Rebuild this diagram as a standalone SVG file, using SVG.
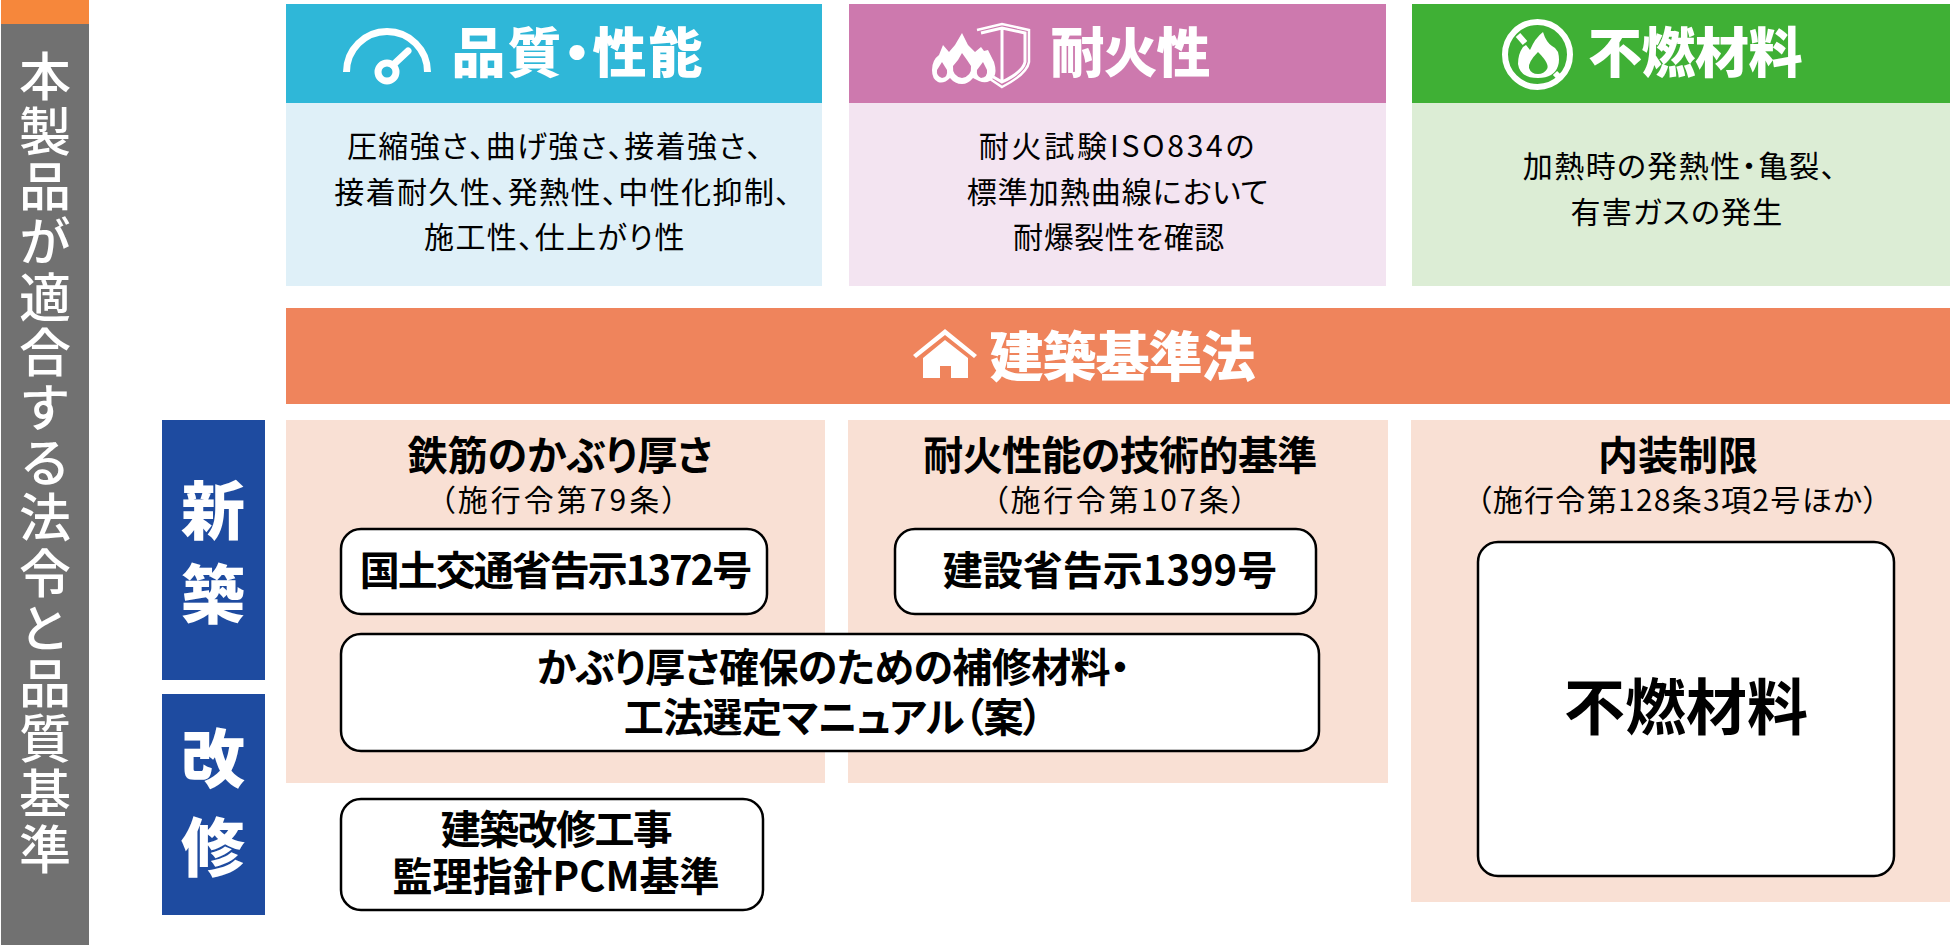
<svg xmlns="http://www.w3.org/2000/svg" width="1950" height="945" viewBox="0 0 1950 945">
<style>
text{font-family:"Noto Sans CJK JP","Noto Sans",sans-serif;text-anchor:middle;fill:#000;font-feature-settings:"palt"}
.t{font-size:54px;font-weight:900;fill:#fff}
.b{font-size:30px;font-weight:400;letter-spacing:1.4px}
.h{font-size:40px;font-weight:700}
.s{font-size:30px;font-weight:400;letter-spacing:1.8px}
.k{font-size:40px;font-weight:700}
.v{font-size:64px;font-weight:900;fill:#fff}
.box{fill:#fff;stroke:#000;stroke-width:2.5}
.ic{fill:none;stroke:#fff;stroke-width:7;stroke-linecap:round;stroke-linejoin:round}
.fl{fill:#fff}
</style>
<g id="side-bar">
<rect x="1" y="0" width="88" height="24" fill="#f6873b"/>
<rect x="1" y="24" width="88" height="921" fill="#717171"/>
<text x="45" y="50" style="writing-mode:vertical-rl;font-size:52px;font-weight:500;fill:#fff;text-anchor:start;letter-spacing:3.2px;font-feature-settings:normal">本製品が適合する法令と品質基準</text>
</g>
<g id="quality">
<rect x="286" y="4" width="536" height="99" fill="#2fb7d8"/>
<rect x="286" y="103" width="536" height="183" fill="#dff0f8"/>
<path class="ic" d="M346.500 72A40.500 40.500 0 0 1 427.500 72" style="stroke-linecap:butt"/>
<circle class="ic" cx="387" cy="72" r="9"/>
<path class="ic" d="M393 65L408 51"/>
<text class="t" x="578" y="73" style="letter-spacing:2px">品質・性能</text>
<text class="b" x="555" y="157">圧縮強さ、曲げ強さ、接着強さ、</text>
<text class="b" x="563" y="203">接着耐久性、発熱性、中性化抑制、</text>
<text class="b" x="555" y="248">施工性、仕上がり性</text>
</g>
<g id="fire-resistance">
<rect x="849" y="4" width="537" height="99" fill="#cd79ae"/>
<rect x="849" y="103" width="537" height="183" fill="#f3e4f1"/>
<path d="M977 30L1002 24L1029 30L1029 62Q1027 74 1002 87L990 79" fill="none" stroke="#fff" stroke-width="2.500"/>
<path d="M981 33L1002 28L1025 33L1025 62Q1023 72 1002 82L990 75M1002 29L1002 81" fill="none" stroke="#fff" stroke-width="3"/>
<path class="fl" d="M932 70Q932 60 939 55L943 45L949 52L955 45L962 33L968 45L975 52L981 47L984 51L988 50L994 62Q997 72 994 77Q988 85 979 81L973 78Q968 84 962 84Q955 84 950 78Q944 84 938 82Q932 79 932 70Z"/>
<path d="M962 53L967 60L971 66Q972 76 962 78Q952 76 953 66L958 60Z" fill="#cd79ae"/>
<path d="M942 62L947 70Q948 77 942 78Q936 76 937 70Z" fill="#cd79ae"/>
<path d="M983 62L987 70Q988 77 981 78Q976 76 977 70Z" fill="#cd79ae"/>
<text class="t" x="1130" y="73" style="letter-spacing:-1px">耐火性</text>
<text class="b" x="1118" y="157" style="letter-spacing:2.800px">耐火試験ISO834の</text>
<text class="b" x="1118" y="203" style="letter-spacing:1px">標準加熱曲線において</text>
<text class="b" x="1119" y="248" style="letter-spacing:.6px">耐爆裂性を確認</text>
</g>
<g id="noncombustible">
<rect x="1412" y="4" width="538" height="99" fill="#3fb035"/>
<rect x="1412" y="103" width="538" height="183" fill="#dcedd5"/>
<circle cx="1537.500" cy="54.500" r="32.500" fill="none" stroke="#fff" stroke-width="6"/>
<path d="M1518 35L1525 43M1555 73L1560 78" stroke="#fff" stroke-width="6" fill="none"/>
<path class="fl" d="M1518 64Q1518 54 1523 47L1526 45L1530 50Q1535 38 1543 32Q1546 42 1552 46L1555 48L1558 52Q1560 60 1558 66Q1554 78 1538 78Q1520 78 1518 64Z"/>
<path d="M1538 52Q1550 64 1547 69Q1544 74 1538 74Q1531 74 1529 68Q1528 62 1538 52Z" fill="#3fb035"/>
<text class="t" x="1695" y="73" style="letter-spacing:-.5px">不燃材料</text>
<text class="b" x="1680" y="177">加熱時の発熱性・亀裂、</text>
<text class="b" x="1677" y="223" style="letter-spacing:1.200px">有害ガスの発生</text>
</g>
<g id="building-code">
<rect x="286" y="308" width="1664" height="96" fill="#ef845c"/>
<path class="fl" d="M945 329L977 355L974 358L945 335L916 358L913 355Z"/>
<path class="fl" d="M945 340L968 358V378H951V366H940V378H923V358Z"/>
<text class="t" x="1122" y="377" style="letter-spacing:-1px">建築基準法</text>
</g>
<g id="new-build">
<rect x="162" y="420" width="103" height="260" fill="#1e4ba0"/>
<text class="v" x="213" y="534">新</text>
<text class="v" x="213" y="618">築</text>
</g>
<g id="renovation">
<rect x="162" y="694" width="103" height="221" fill="#1e4ba0"/>
<text class="v" x="213" y="782">改</text>
<text class="v" x="213" y="871">修</text>
</g>
<g id="cover">
<rect x="286" y="420" width="539" height="363" fill="#f9e0d4"/>
<text class="h" x="560" y="470">鉄筋のかぶり厚さ</text>
<text class="s" x="560" y="511" style="letter-spacing:3px">（施行令第79条）</text>
</g>
<g id="fire-tech">
<rect x="848" y="420" width="540" height="363" fill="#f9e0d4"/>
<text class="h" x="1120" y="470" style="letter-spacing:-.6px">耐火性能の技術的基準</text>
<text class="s" x="1121" y="511" style="letter-spacing:2.600px">（施行令第107条）</text>
</g>
<g id="interior">
<rect x="1411" y="420" width="539" height="482" fill="#f9e0d4"/>
<text class="h" x="1678" y="470">内装制限</text>
<text class="s" x="1678" y="511" style="letter-spacing:1.300px">（施行令第128条3項2号ほか）</text>
<rect class="box" x="1478" y="542" width="416" height="334" rx="20"/>
<text x="1686" y="730" style="font-size:61px;font-weight:700">不燃材料</text>
</g>
<g id="notice-1372">
<rect class="box" x="341" y="529" width="426" height="85" rx="20"/>
<text class="k" x="555" y="585" style="letter-spacing:-2px">国土交通省告示1372号</text>
</g>
<g id="notice-1399">
<rect class="box" x="895" y="529" width="421" height="85" rx="20"/>
<text class="k" x="1110" y="585">建設省告示1399号</text>
</g>
<g id="manual">
<rect class="box" x="341" y="634" width="978" height="117" rx="20"/>
<text class="k" x="833" y="682" style="letter-spacing:-.6px">かぶり厚さ確保のための補修材料・</text>
<text class="k" x="833" y="732" style="letter-spacing:-.6px">工法選定マニュアル（案）</text>
</g>
<g id="pcm">
<rect class="box" x="341" y="799" width="422" height="111" rx="20"/>
<text class="k" x="556" y="844" style="letter-spacing:-1.600px">建築改修工事</text>
<text class="k" x="556" y="891">監理指針PCM基準</text>
</g>
</svg>
